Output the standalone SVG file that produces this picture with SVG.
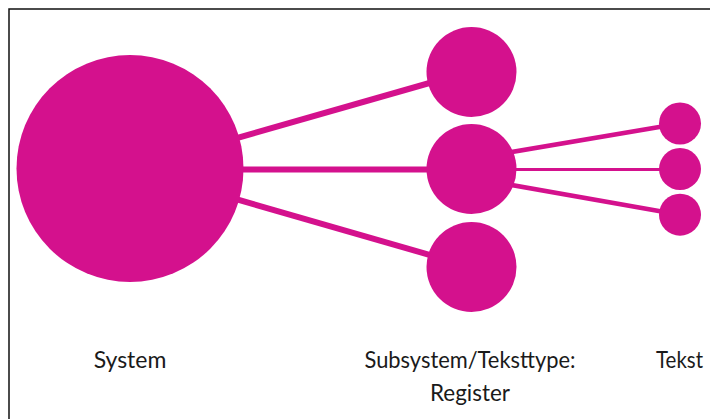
<svg xmlns="http://www.w3.org/2000/svg" width="710" height="419" viewBox="0 0 710 419">
  <style>
    .node { fill: #D4118D; }
    .edge { stroke: #D4118D; fill: none; }
    .thick { stroke-width: 6; }
    .thin { stroke-width: 4.5; }
    .hair { stroke-width: 3; }
    .label { font-family: Lato, "Liberation Sans", sans-serif; font-size: 23px; fill: #1a1a1a; text-anchor: middle; }
  </style>
  <rect width="710" height="419" fill="#ffffff"/>
  <!-- frame -->
  <path d="M9,419 V9 H710" fill="none" stroke="#111111" stroke-width="1.5"/>

  <g id="connectors">
    <line class="edge thick" x1="130" y1="168.5" x2="471.5" y2="71"/>
    <line class="edge thick" x1="130" y1="169.5" x2="471.5" y2="169.5"/>
    <line class="edge thick" x1="130" y1="168.5" x2="471.5" y2="267"/>
    <line class="edge thin" x1="500" y1="154" x2="680" y2="123.5"/>
    <line class="edge hair" x1="500" y1="169.5" x2="680" y2="169.5"/>
    <line class="edge thin" x1="500" y1="183" x2="680" y2="214.7"/>
  </g>

  <g id="system">
    <circle class="node" cx="130" cy="168.5" r="113.5"/>
    <text class="label" x="130" y="368">System</text>
  </g>

  <g id="subsystem-top">
    <circle class="node" cx="471.5" cy="72" r="45"/>
  </g>
  <g id="subsystem-register">
    <circle class="node" cx="471.5" cy="169" r="45"/>
    <text class="label" x="470" y="368" textLength="211" lengthAdjust="spacingAndGlyphs">Subsystem/Teksttype:</text>
    <text class="label" x="470" y="401" textLength="80" lengthAdjust="spacingAndGlyphs">Register</text>
  </g>
  <g id="subsystem-bottom">
    <circle class="node" cx="471.5" cy="267" r="45"/>
  </g>

  <g id="tekst-1">
    <circle class="node" cx="680" cy="123.5" r="21"/>
  </g>
  <g id="tekst-2">
    <circle class="node" cx="680" cy="169" r="21"/>
    <text class="label" x="679.5" y="368" textLength="47" lengthAdjust="spacingAndGlyphs">Tekst</text>
  </g>
  <g id="tekst-3">
    <circle class="node" cx="680" cy="214.7" r="21"/>
  </g>
</svg>
